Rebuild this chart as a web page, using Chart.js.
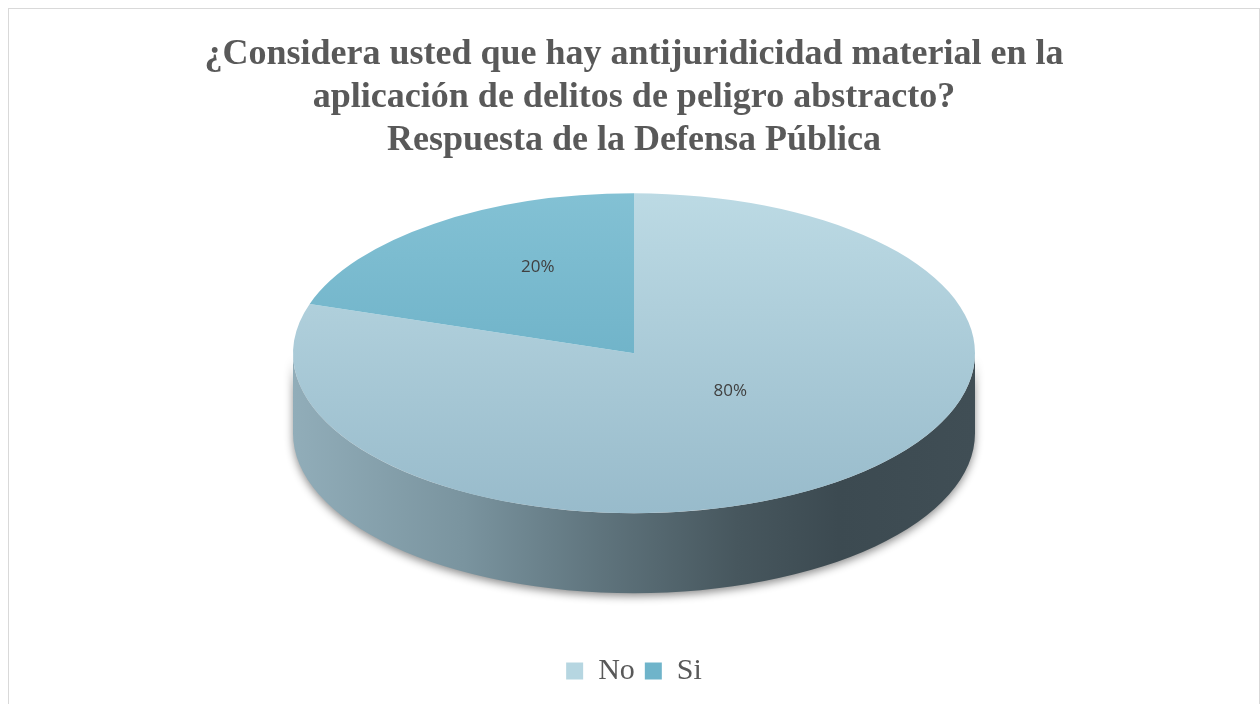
<!DOCTYPE html>
<html>
<head>
<meta charset="utf-8">
<script src="https://cdn.jsdelivr.net/npm/chart.js@4"></script>
<style>
  html, body { margin: 0; padding: 0; background: #fff; }
  .frame { position: absolute; left: 8px; top: 8px; width: 1250px; height: 695px; border: 1px solid #d9d9d9; }
</style>
</head>
<body>
<div class="frame"><canvas id="pie"></canvas></div>
<script>
const titleLines = [
  '¿Considera usted que hay antijuridicidad material en la',
  'aplicación de delitos de peligro abstracto?',
  'Respuesta de la Defensa Pública'
];
const categories = ['No', 'Si'];
const values = [80, 20];

// top face colours (light -> dark, top to bottom) and legend swatches
const faceTop = ['#bcdae4', '#83c1d4'];
const faceBottom = ['#98bbcb', '#5fa7bf'];
const legendColors = ['#b6d6e1', '#6fb4ca'];

const RADIUS = 341;
const TILT = 0.469;   // ry / rx of the top face
const DEPTH = 80;

function faceFill(ctx) {
  const chart = ctx.chart;
  const a = chart.chartArea;
  const i = ctx.dataIndex;
  if (!a || i === undefined) return legendColors[i || 0];
  const cy = (a.top + a.bottom) / 2;
  const g = chart.ctx.createLinearGradient(0, cy - RADIUS, 0, cy + RADIUS);
  g.addColorStop(0, faceTop[i]);
  g.addColorStop(1, faceBottom[i]);
  return g;
}

const pie3d = {
  id: 'pie3d',
  beforeDatasetsDraw(chart) {
    const ctx = chart.ctx;
    const arcs = chart.getDatasetMeta(0).data;
    const cx = arcs[0].x, r = arcs[0].outerRadius, ry = r * TILT;
    const fy = arcs[0].y - DEPTH / 2;

    // side wall of the front half
    const side = ctx.createLinearGradient(cx - r, 0, cx + r, 0);
    side.addColorStop(0, '#91adb9');
    side.addColorStop(0.25, '#7a949f');
    side.addColorStop(0.45, '#5f747d');
    side.addColorStop(0.65, '#47575e');
    side.addColorStop(0.8, '#3c4a51');
    side.addColorStop(1, '#404e55');
    ctx.save();
    arcs.forEach(arc => {
      [0, 2 * Math.PI].forEach(base => {
        const a0 = Math.max(arc.startAngle, base);
        const a1 = Math.min(arc.endAngle, base + Math.PI);
        if (a1 <= a0) return;
        ctx.beginPath();
        ctx.ellipse(cx, fy, r, ry, 0, a0, a1);
        ctx.ellipse(cx, fy + DEPTH, r, ry, 0, a1, a0, true);
        ctx.closePath();
        ctx.shadowColor = 'rgba(0,0,0,0.45)';
        ctx.shadowBlur = 8;
        ctx.shadowOffsetY = 3;
        ctx.fillStyle = side;
        ctx.fill();
      });
    });
    ctx.restore();

    // squash the round pie into the tilted top face
    ctx.save();
    ctx.translate(cx, fy);
    ctx.scale(1, TILT);
    ctx.translate(-cx, -arcs[0].y);
  },
  afterDatasetsDraw(chart) {
    const ctx = chart.ctx;
    ctx.restore();
    const arcs = chart.getDatasetMeta(0).data;
    const total = values.reduce((s, v) => s + v, 0);
    ctx.save();
    ctx.font = '17px "Open Sans", sans-serif';
    ctx.fillStyle = '#404040';
    ctx.textAlign = 'center';
    ctx.textBaseline = 'middle';
    arcs.forEach((arc, i) => {
      const mid = (arc.startAngle + arc.endAngle) / 2;
      const r = arc.outerRadius, ry = r * TILT;
      const fy = arc.y - DEPTH / 2 - ry * 0.15;
      const x = arc.x + Math.cos(mid) * r * 0.48;
      const y = fy + Math.sin(mid) * ry * 0.48;
      ctx.fillText(Math.round(values[i] / total * 100) + '%', x, y);
    });
    ctx.restore();
  }
};

new Chart(document.getElementById('pie'), {
  type: 'pie',
  data: {
    labels: categories,
    datasets: [{
      data: values,
      backgroundColor: faceFill,
      borderWidth: 0,
      radius: RADIUS
    }]
  },
  options: {
    responsive: true,
    maintainAspectRatio: false,
    animation: false,
    events: [],
    layout: { padding: { top: 24, bottom: 8 } },
    plugins: {
      title: {
        display: true,
        text: titleLines,
        color: '#595959',
        font: { family: '"Liberation Serif", "Times New Roman", serif', size: 36, weight: 'bold', lineHeight: 1.2 },
        padding: { top: 0, bottom: 10 }
      },
      legend: {
        position: 'bottom',
        title: { display: true, text: ' ', font: { size: 1, lineHeight: 1 }, padding: { top: 0, bottom: 31 } },
        labels: {
          boxWidth: 17,
          boxHeight: 17,
          padding: 10,
          color: '#595959',
          font: { family: '"Liberation Serif", "Times New Roman", serif', size: 30 },
          generateLabels: () => categories.map((c, i) => ({
            text: c, fillStyle: legendColors[i], strokeStyle: legendColors[i],
            lineWidth: 0, hidden: false, index: i, fontColor: '#595959'
          }))
        }
      },
      tooltip: { enabled: false }
    }
  },
  plugins: [pie3d]
});
</script>
</body>
</html>
